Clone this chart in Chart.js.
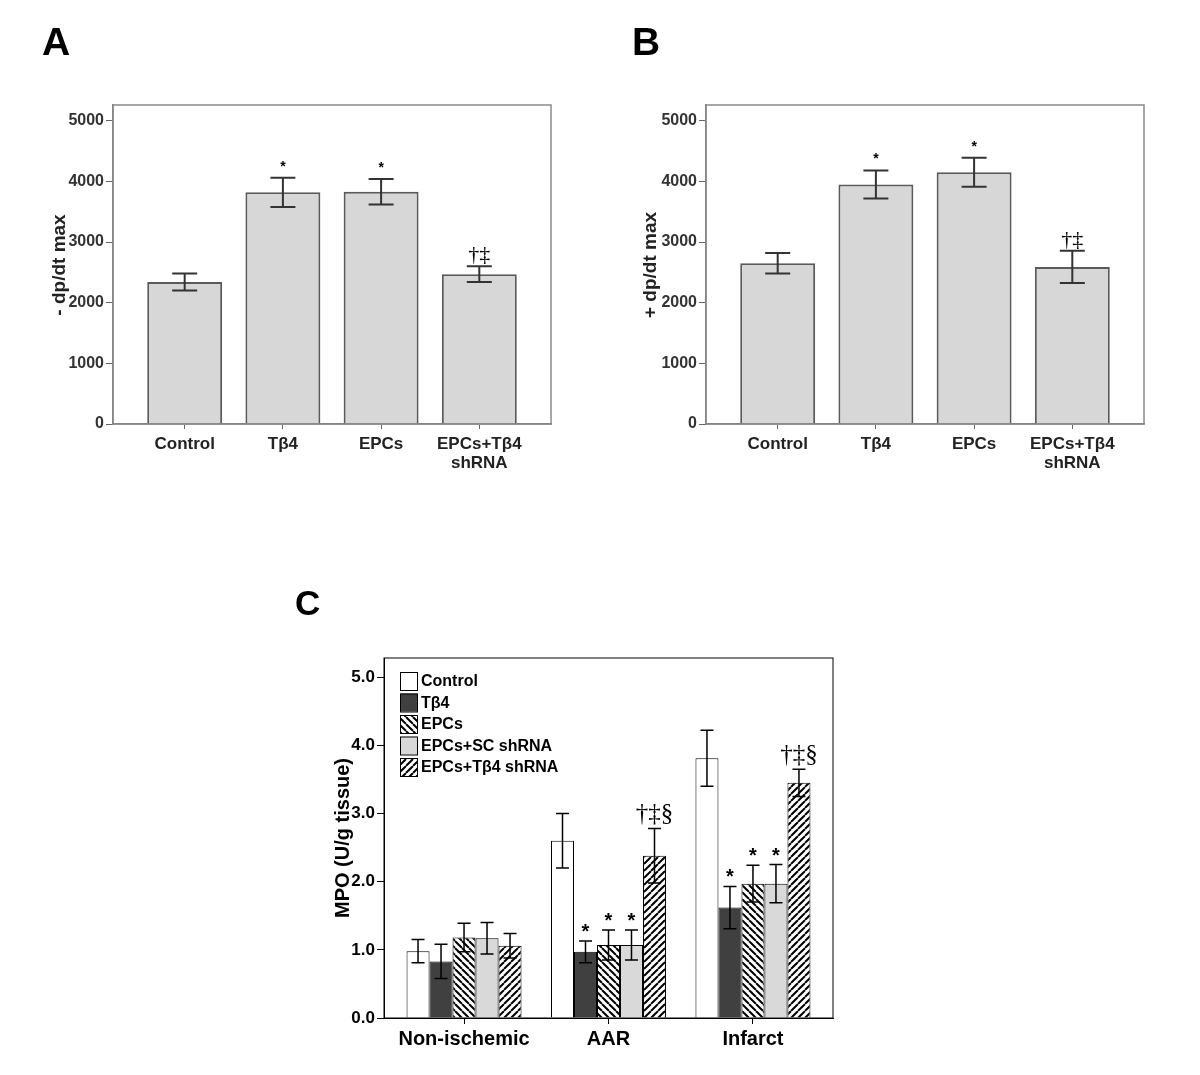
<!DOCTYPE html>
<html>
<head>
<meta charset="utf-8">
<script src="https://cdn.jsdelivr.net/npm/chart.js@4.4.1/dist/chart.umd.min.js"></script>
<style>
  body { margin: 0; background: #fff; width: 1200px; height: 1075px; position: relative; overflow: hidden; }
  canvas { position: absolute; }
</style>
</head>
<body>
<canvas id="cA" width="600" height="500" style="left:0;top:0"></canvas>
<canvas id="cB" width="600" height="500" style="left:600px;top:0"></canvas>
<canvas id="cC" width="600" height="505" style="left:280px;top:570px"></canvas>
<script>
// panels A and B
const groupsAB = ['Control', 'Tβ4', 'EPCs', 'EPCs+Tβ4 shRNA'];
const valuesA = [2340, 3820, 3830, 2470];
const errorsA = [140, 240, 210, 130];
const valuesB = [2650, 3950, 4150, 2590];
const errorsB = [170, 230, 240, 265];
const notesAB = ['', '*', '*', '†‡'];
const ticksAB = [0, 1000, 2000, 3000, 4000, 5000];

// panel C
const regionsC = ['Non-ischemic', 'AAR', 'Infarct'];
const seriesC = ['Control', 'Tβ4', 'EPCs', 'EPCs+SC shRNA', 'EPCs+Tβ4 shRNA'];
const controlC = [0.98, 2.60, 3.81];
const tb4C = [0.83, 0.97, 1.62];
const epcsC = [1.18, 1.07, 1.97];
const scC = [1.17, 1.07, 1.97];
const shC = [1.06, 2.38, 3.45];
const controlErr = [0.17, 0.40, 0.41];
const tb4Err = [0.25, 0.16, 0.31];
const epcsErr = [0.21, 0.22, 0.27];
const scErr = [0.23, 0.22, 0.28];
const shErr = [0.18, 0.40, 0.20];
const notesC = [['', '', ''], ['', '*', '*'], ['', '*', '*'], ['', '*', '*'], ['', '†‡§', '†‡§']];
const ticksC = [0, 1, 2, 3, 4, 5];

Chart.defaults.font.family = '"Liberation Sans", Arial, sans-serif';

function hatch(dir) {
  const s = 7, c = document.createElement('canvas');
  c.width = s; c.height = s;
  const g = c.getContext('2d');
  g.fillStyle = '#fff'; g.fillRect(0, 0, s, s);
  g.strokeStyle = '#000'; g.lineWidth = 2;
  g.beginPath();
  for (let k = -1; k <= 1; k++) {
    if (dir === '\\') { g.moveTo(k * s, 0); g.lineTo(k * s + s, s); }
    else { g.moveTo(k * s, s); g.lineTo(k * s + s, 0); }
  }
  g.stroke();
  return g.createPattern(c, 'repeat');
}

const deco = {
  id: 'deco',
  afterDatasetsDraw(chart, args, o) {
    const ctx = chart.ctx, ys = chart.scales.y;
    ctx.save();
    chart.data.datasets.forEach((ds, d) => {
      chart.getDatasetMeta(d).data.forEach((bar, i) => {
        const v = ds.data[i].y, e = o.errs[d][i];
        const top = ys.getPixelForValue(v + e), bot = ys.getPixelForValue(v - e);
        ctx.strokeStyle = o.color; ctx.lineWidth = o.width;
        ctx.beginPath();
        ctx.moveTo(bar.x, top); ctx.lineTo(bar.x, bot);
        ctx.moveTo(bar.x - o.cap / 2, top); ctx.lineTo(bar.x + o.cap / 2, top);
        ctx.moveTo(bar.x - o.cap / 2, bot); ctx.lineTo(bar.x + o.cap / 2, bot);
        ctx.stroke();
        const n = o.notes[d][i];
        if (n) {
          ctx.fillStyle = '#000'; ctx.textAlign = 'center'; ctx.textBaseline = 'alphabetic';
          ctx.font = n === '*' ? o.starFont : o.markFont;
          ctx.fillText(n, bar.x, top - (n === '*' ? o.starGap : o.markGap));
        }
      });
    });
    ctx.restore();
  },
  afterDraw(chart, args, o) {
    const ctx = chart.ctx, a = chart.chartArea;
    ctx.save();
    ctx.strokeStyle = o.frame; ctx.lineWidth = o.frameWidth;
    ctx.strokeRect(a.left, a.top, a.right - a.left, a.bottom - a.top);
    ctx.fillStyle = '#000';
    ctx.font = o.letterFont; ctx.textAlign = 'left'; ctx.textBaseline = 'alphabetic';
    ctx.fillText(o.letter, o.letterX, o.letterY);
    ctx.translate(o.titleX, o.titleY); ctx.rotate(-Math.PI / 2);
    ctx.font = o.titleFont; ctx.textAlign = 'center'; ctx.textBaseline = 'middle';
    ctx.fillStyle = o.titleColor;
    ctx.fillText(o.title, 0, 0);
    ctx.restore();
    if (o.legend) {
      ctx.save();
      chart.data.datasets.forEach((ds, d) => {
        const x = a.left + 16, y = a.top + 14 + d * 21.5;
        ctx.fillStyle = ds.backgroundColor; ctx.fillRect(x, y, 17, 18);
        ctx.strokeStyle = '#000'; ctx.lineWidth = 1; ctx.strokeRect(x + 0.5, y + 0.5, 17, 18);
        ctx.fillStyle = '#000'; ctx.font = 'bold 16px "Liberation Sans", Arial, sans-serif';
        ctx.textAlign = 'left'; ctx.textBaseline = 'middle';
        ctx.fillText(ds.label, x + 21, y + 10);
      });
      ctx.restore();
    }
  }
};

function panelAB(id, values, errors, letter, letterX, title, titleX, left) {
  new Chart(document.getElementById(id), {
    type: 'bar',
    data: {
      datasets: [{
        data: values.map((v, i) => ({ x: i, y: v })),
        backgroundColor: '#d7d7d7', borderColor: '#5a5a5a', borderWidth: 2,
        categoryPercentage: 0.763, barPercentage: 1
      }]
    },
    options: {
      responsive: false, animation: false,
      layout: { padding: { left: left - 113, top: 105, right: 600 - (left + 438), bottom: 16 } },
      plugins: {
        legend: { display: false }, tooltip: { enabled: false },
        deco: {
          errs: [errors], notes: [notesAB], color: '#333', width: 2, cap: 25,
          starFont: 'bold 14px "Liberation Sans", Arial', starGap: 7,
          markFont: '22px "Liberation Serif", serif', markGap: 5,
          frame: '#8a8a8a', frameWidth: 1.5,
          letter: letter, letterX: letterX, letterY: 55, letterFont: 'bold 39px "Liberation Sans", Arial',
          title: title, titleX: titleX, titleY: 265, titleColor: '#222',
          titleFont: 'bold 19px "Liberation Sans", Arial'
        }
      },
      scales: {
        x: {
          type: 'linear', min: -0.73, max: 3.73, offset: false,
          afterBuildTicks: s => { s.ticks = groupsAB.map((g, i) => ({ value: i })); },
          afterFit: s => { s.height = 60; },
          grid: { offset: false, drawOnChartArea: false, tickLength: 5, tickColor: '#666' },
          border: { color: '#777', width: 1.5 },
          ticks: { autoSkip: false, maxRotation: 0, padding: 6, color: '#222',
                   font: { size: 17, weight: 'bold', lineHeight: 1.1 },
                   callback: v => groupsAB[v].split(' ') }
        },
        y: {
          min: 0, max: 5260,
          afterBuildTicks: s => { s.ticks = ticksAB.map(v => ({ value: v })); },
          afterFit: s => { s.width = 113; },
          grid: { drawOnChartArea: false, tickLength: 7, tickColor: '#666' },
          border: { color: '#777', width: 1.5 },
          ticks: { padding: 2, color: '#333', font: { size: 16, weight: 'bold' },
                   callback: v => String(v) }
        }
      }
    },
    plugins: [deco]
  });
}

panelAB('cA', valuesA, errorsA, 'A', 42, '- dp/dt max', 60, 113);
panelAB('cB', valuesB, errorsB, 'B', 32, '+ dp/dt max', 51, 106);

const fillsC = ['#ffffff', '#404040', hatch('\\'), '#d9d9d9', hatch('/')];
const dataC = [controlC, tb4C, epcsC, scC, shC];
const errsC = [controlErr, tb4Err, epcsErr, scErr, shErr];

new Chart(document.getElementById('cC'), {
  type: 'bar',
  data: {
    datasets: seriesC.map((name, d) => ({
      label: name,
      data: dataC[d].map((v, i) => ({ x: i, y: v })),
      backgroundColor: fillsC[d], borderColor: '#000', borderWidth: 1,
      categoryPercentage: 0.796, barPercentage: 1
    }))
  },
  options: {
    responsive: false, animation: false,
    layout: { padding: { left: 0, top: 88, right: 47, bottom: 17 } },
    plugins: {
      legend: { display: false }, tooltip: { enabled: false },
      deco: {
        errs: errsC, notes: notesC, color: '#000', width: 1.5, cap: 13,
        starFont: 'bold 20px "Liberation Sans", Arial', starGap: 3,
        markFont: '25px "Liberation Serif", serif', markGap: 7,
        frame: '#000', frameWidth: 1,
        letter: 'C', letterX: 15, letterY: 45, letterFont: 'bold 35px "Liberation Sans", Arial',
        title: 'MPO (U/g tissue)', titleX: 63, titleY: 268, titleColor: '#000',
        titleFont: 'bold 20px "Liberation Sans", Arial',
        legend: true
      }
    },
    scales: {
      x: {
        type: 'linear', min: -0.554, max: 2.554, offset: false,
        afterBuildTicks: s => { s.ticks = regionsC.map((r, i) => ({ value: i })); },
        afterFit: s => { s.height = 40; },
        grid: { offset: false, drawOnChartArea: false, tickLength: 6, tickColor: '#000' },
        border: { color: '#000', width: 1 },
        ticks: { autoSkip: false, maxRotation: 0, padding: 3, color: '#000',
                 font: { size: 20, weight: 'bold' }, callback: v => regionsC[v] }
      },
      y: {
        min: 0, max: 5.28,
        afterBuildTicks: s => { s.ticks = ticksC.map(v => ({ value: v })); },
        afterFit: s => { s.width = 104; },
        grid: { drawOnChartArea: false, tickLength: 7, tickColor: '#000' },
        border: { color: '#000', width: 1 },
        ticks: { padding: 2, color: '#000', font: { size: 17, weight: 'bold' },
                 callback: v => v.toFixed(1) }
      }
    }
  },
  plugins: [deco]
});
</script>
</body>
</html>
